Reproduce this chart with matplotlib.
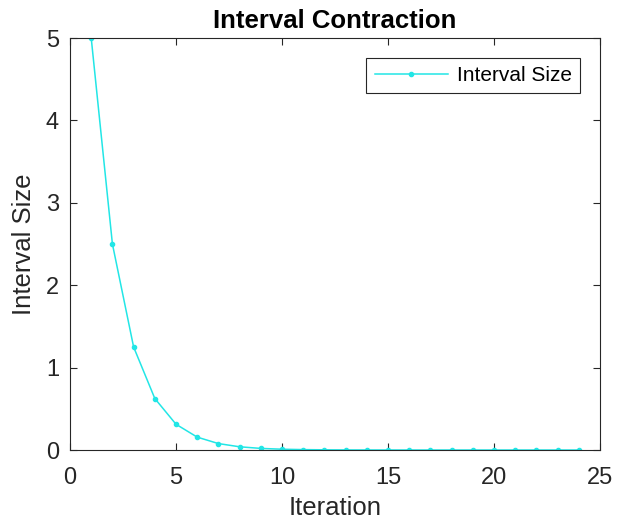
import matplotlib
matplotlib.use("Agg")
import matplotlib.pyplot as plt

plt.rcParams["font.family"] = ["Liberation Sans", "DejaVu Sans"]

# Données
iterations = list(range(1, 25))
interval_size = [5.0, 2.5, 1.25, 0.625, 0.3125, 0.15625, 0.078125, 0.0390625,
                 0.0195, 0.0098, 0.0049, 0.0024, 0.0012, 0.0006, 0.0003, 0.00015,
                 0.00008, 0.00004, 0.00002, 0.00001, 0.000005, 0.0000024,
                 0.0000012, 0.0000006]
x_ticks = [0, 5, 10, 15, 20, 25]
y_ticks = [0, 1, 2, 3, 4, 5]

fig = plt.figure(figsize=(6.33, 5.28), dpi=100)
ax = fig.add_axes([0.1106, 0.1477, 0.8374, 0.7803])

ax.plot(iterations, interval_size, color="#22e6e6", linewidth=1.1,
        marker=".", markersize=6, label="Interval Size")

ax.set_xlim(0, 25)
ax.set_ylim(0, 5)
ax.set_xticks(x_ticks)
ax.set_yticks(y_ticks)
ax.tick_params(direction="in", top=True, right=True, labelsize=17,
               colors="#262626", length=5, width=0.8)
ax.tick_params(axis="x", pad=12)
ax.tick_params(axis="y", pad=8)
for s in ax.spines.values():
    s.set_color("#262626")
    s.set_linewidth(0.8)

ax.set_title("Interval Contraction", fontsize=18.5, fontweight="bold", pad=7)
ax.set_xlabel("Iteration", fontsize=18.5, color="#262626", labelpad=5)
ax.set_ylabel("Interval Size", fontsize=18.5, color="#262626", labelpad=7)

leg = ax.legend(loc="upper right", fontsize=15, fancybox=False,
                edgecolor="#262626", framealpha=1, handlelength=3.5,
                handletextpad=0.45, borderaxespad=0.95, borderpad=0.4)
leg.get_frame().set_linewidth(0.8)

fig.savefig("out.png", dpi=100)
